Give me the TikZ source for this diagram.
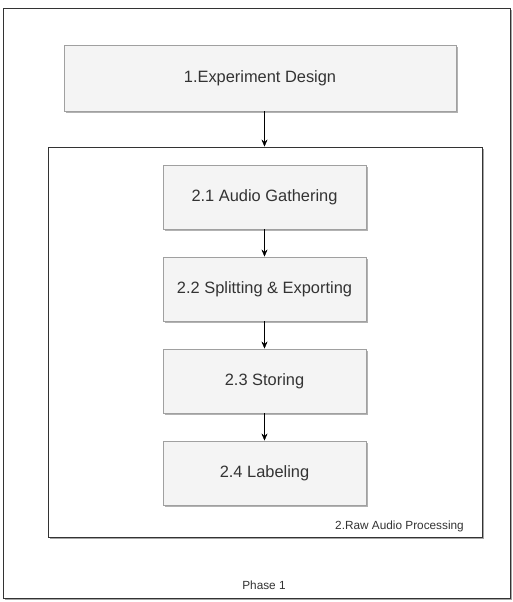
\documentclass[tikz,border=0pt]{standalone}
\usepackage{fontspec}
\setmainfont{Liberation Sans}
\usetikzlibrary{arrows.meta,shadows}
\definecolor{boxfill}{HTML}{F4F4F4}
\definecolor{boxline}{HTML}{A0A0A0}
\definecolor{txt}{HTML}{333333}

\begin{document}
\begin{tikzpicture}[x=1pt, y=-1pt,
  stepbox/.style={draw=boxline, fill=boxfill, line width=0.9pt, text=txt,
    font=\fontsize{16.4}{19}\selectfont, inner sep=0pt,
    drop shadow={shadow xshift=1.8pt, shadow yshift=-1.8pt, fill=black, opacity=0.3}},
  frame/.style={draw=black!80, fill=white, line width=0.9pt, inner sep=0pt,
    drop shadow={shadow xshift=1.8pt, shadow yshift=-1.8pt, fill=black, opacity=0.35}},
  tag/.style={text=txt, font=\fontsize{11.8}{14}\selectfont, inner sep=0pt},
  >={Stealth[length=7pt, width=6pt]}]
\useasboundingbox (0,0) rectangle (513,602);

\node[frame, minimum width=507pt, minimum height=590pt] (phase) at (256.5,303) {};
\node[stepbox, minimum width=392pt, minimum height=66pt] (a) at (260,78) {1.Experiment Design};
\node[frame, minimum width=434pt, minimum height=390pt] (b) at (265,342) {};

\node[stepbox, minimum width=203pt, minimum height=64pt] (b1) at (264.5,197) {2.1 Audio Gathering};
\node[stepbox, minimum width=203pt, minimum height=64pt] (b2) at (264.5,289) {2.2 Splitting \& Exporting};
\node[stepbox, minimum width=203pt, minimum height=64pt] (b3) at (264.5,381) {2.3 Storing};
\node[stepbox, minimum width=203pt, minimum height=64pt] (b4) at (264.5,473) {2.4 Labeling};

\node[tag, anchor=east] (btag) at (464,526) {2.Raw Audio Processing};
\node[tag] (ptag) at (264,585) {Phase 1};

\draw[->] (a.south -| b1.north) -- (b.north -| b1.north);
\draw[->] (b1) -- (b2);
\draw[->] (b2) -- (b3);
\draw[->] (b3) -- (b4);
\end{tikzpicture}
\end{document}
